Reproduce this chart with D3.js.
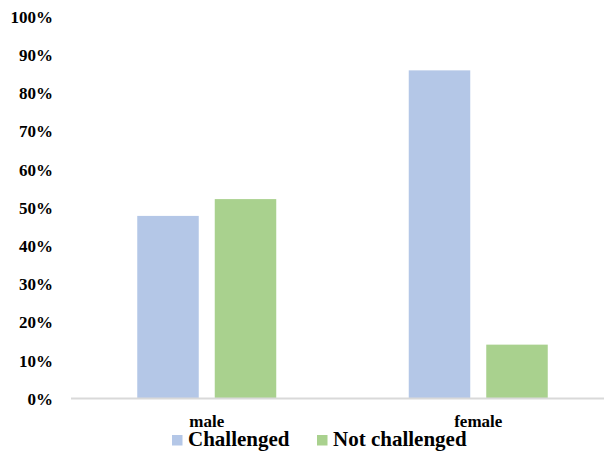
<!DOCTYPE html>
<html>
<head>
<meta charset="utf-8">
<script src="https://cdn.jsdelivr.net/npm/d3@7"></script>
<style>
  html, body { margin: 0; padding: 0; background: #fff; }
  svg { display: block; }
</style>
</head>
<body>
<svg id="chart" width="604" height="453"></svg>
<script>
// Share of respondents by gender
const categories = ["male", "female"];
const seriesNames = ["Challenged", "Not challenged"];
const challenged = [0.478, 0.859];
const notChallenged = [0.522, 0.141];
const yTicks = [0, 0.1, 0.2, 0.3, 0.4, 0.5, 0.6, 0.7, 0.8, 0.9, 1.0];
const colors = ["#b4c7e7", "#a9d18e"];

const rows = categories.map((c, i) => ({
  category: c,
  values: [challenged[i], notChallenged[i]]
}));

const serif = "'Liberation Serif'";
const svg = d3.select("#chart");
const plot = { left: 71, right: 614, top: 16.5, bottom: 398.5 };

const x = d3.scaleBand()
  .domain(categories)
  .range([plot.left, plot.right])
  .padding(0);

const barW = 61.5, gap = 16;
const xs = d3.scaleBand()
  .domain(seriesNames)
  .range([0, barW * 2 + gap])
  .paddingInner(gap / (barW + gap))
  .paddingOuter(0);

const y = d3.scaleLinear().domain([0, 1]).range([plot.bottom, plot.top]);

function styleText(sel, size) {
  sel.style("font-family", serif)
    .style("font-weight", "bold")
    .style("font-size", size + "px")
    .attr("fill", "#000");
}

// y axis labels (no axis line)
const yAxis = d3.axisLeft(y).tickValues(yTicks).tickFormat(d3.format(".0%")).tickSize(0).tickPadding(0);
const gy = svg.append("g").attr("transform", "translate(53,0)").call(yAxis);
gy.attr("font-family", null).attr("font-size", null);
gy.select(".domain").remove();
gy.selectAll("text").call(styleText, 17).attr("dy", "0.34em");

// bars
const groups = svg.append("g").selectAll("g")
  .data(rows)
  .join("g")
  .attr("transform", d => `translate(${x(d.category) + (x.bandwidth() - (barW * 2 + gap)) / 2},0)`);

groups.selectAll("rect")
  .data(d => d.values.map((v, j) => ({ key: seriesNames[j], value: v, j })))
  .join("rect")
  .attr("x", d => xs(d.key))
  .attr("width", xs.bandwidth())
  .attr("y", d => y(d.value))
  .attr("height", d => y(0) - y(d.value))
  .attr("fill", d => colors[d.j]);

// baseline
svg.append("line")
  .attr("x1", plot.left).attr("x2", 604)
  .attr("y1", y(0)).attr("y2", y(0))
  .attr("stroke", "#d9d9d9").attr("stroke-width", 2);

// category labels
const xAxis = d3.axisBottom(x).tickSize(0).tickPadding(0);
const gx = svg.append("g").attr("transform", `translate(0,${y(0)})`).call(xAxis);
gx.attr("font-family", null).attr("font-size", null);
gx.select(".domain").remove();
gx.selectAll("text").call(styleText, 17).attr("dy", 0).attr("y", 28);

// legend
const legendItems = [
  { name: seriesNames[0], color: colors[0], x: 172 },
  { name: seriesNames[1], color: colors[1], x: 317 }
];
const lg = svg.append("g");
legendItems.forEach(it => {
  lg.append("rect").attr("x", it.x).attr("y", 435).attr("width", 10.5).attr("height", 10.5).attr("fill", it.color);
  lg.append("text").attr("x", it.x + 16).attr("y", 446).text(it.name).call(styleText, 21);
});
</script>
</body>
</html>
